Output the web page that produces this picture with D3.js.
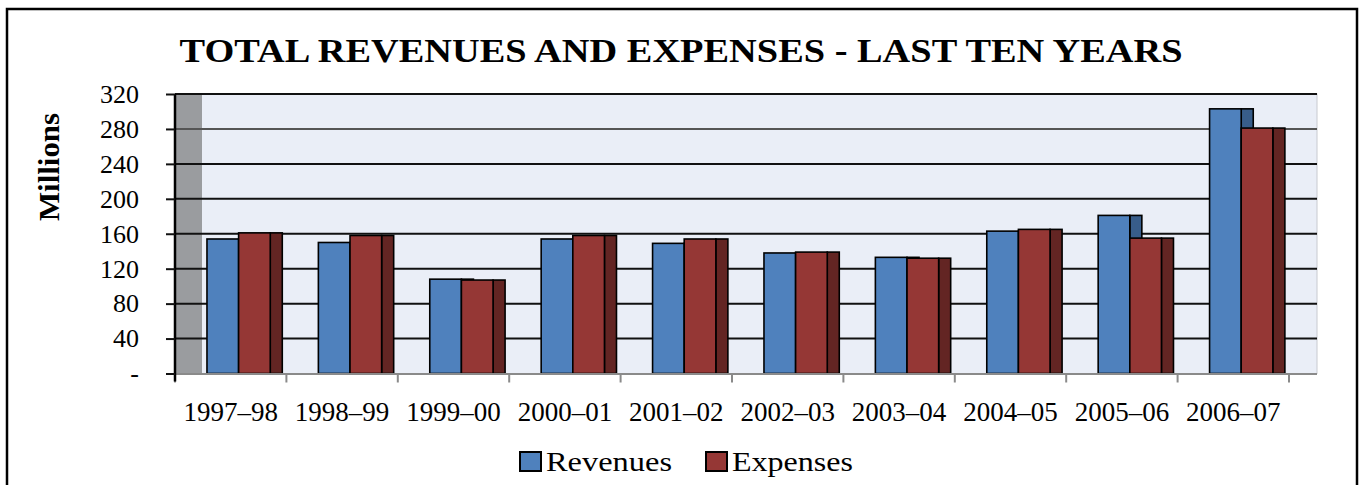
<!DOCTYPE html>
<html>
<head>
<meta charset="utf-8">
<script src="https://cdn.jsdelivr.net/npm/d3@7"></script>
<style>
  html, body { margin: 0; padding: 0; background: #fff; }
  svg { display: block; }
  text { font-family: "Liberation Serif", "Times New Roman", serif; fill: #000; }
</style>
</head>
<body>
<script>
// chart data
const years = ["1997\u201398", "1998\u201399", "1999\u201300", "2000\u201301", "2001\u201302",
               "2002\u201303", "2003\u201304", "2004\u201305", "2005\u201306", "2006\u201307"];
const revenues = [154, 150, 108, 154, 149, 138, 133, 163, 181, 303];
const expenses = [161, 158, 107, 158, 154, 139, 132, 165, 155, 281];
const yTicks = [0, 40, 80, 120, 160, 200, 240, 280, 320];
const seriesNames = ["Revenues", "Expenses"];

const width = 1362, height = 485;
const plotLeft = 175, plotRight = 1289, wallW = 27, depthRight = 1317;
const plotTop = 94, plotBottom = 373.5;

const svg = d3.select("body")
    .append("svg")
    .attr("width", width)
    .attr("height", height);

// outer frame
svg.append("rect")
    .attr("x", 7).attr("y", 9)
    .attr("width", 1350).attr("height", 520)
    .attr("fill", "#fff")
    .attr("stroke", "#000")
    .attr("stroke-width", 2.5);

const x = d3.scaleBand().domain(years).range([plotLeft, plotRight]);
const y = d3.scaleLinear().domain([0, 320]).range([plotBottom, plotTop]);
const bw = x.bandwidth();

// plot back wall + grey side wall
svg.append("rect")
    .attr("x", plotLeft).attr("y", plotTop)
    .attr("width", depthRight - plotLeft).attr("height", plotBottom - plotTop)
    .attr("fill", "#eaeef7")
    .attr("stroke", "#c8cad0")
    .attr("stroke-width", 1);
svg.append("rect")
    .attr("x", plotLeft).attr("y", plotTop)
    .attr("width", wallW).attr("height", plotBottom - plotTop)
    .attr("fill", "#9a9c9f");

// gridlines
svg.append("g").selectAll("line")
    .data(yTicks.filter(d => d > 0))
    .join("line")
    .attr("x1", plotLeft).attr("x2", depthRight)
    .attr("y1", d => y(d)).attr("y2", d => y(d))
    .attr("stroke", d => d === 280 ? "#555" : "#111")
    .attr("stroke-width", 2);

// bars: front face + dark side face
const off = 0.287 * bw, fw = 0.284 * bw, sw = 0.108 * bw;
const series = [
    { name: seriesNames[0], values: revenues, front: "#4f81bd", side: "#385d8a", dx: off },
    { name: seriesNames[1], values: expenses, front: "#953735", side: "#632523", dx: off + fw }
];

series.forEach(s => {
    const g = svg.append("g");
    g.selectAll(".side")
        .data(years)
        .join("rect")
        .attr("class", "side")
        .attr("x", d => x(d) + s.dx + fw)
        .attr("y", (d, i) => y(s.values[i]))
        .attr("width", sw)
        .attr("height", (d, i) => y(0) - y(s.values[i]))
        .attr("fill", s.side)
        .attr("stroke", "#000")
        .attr("stroke-width", 1.6);
    g.selectAll(".front")
        .data(years)
        .join("rect")
        .attr("class", "front")
        .attr("x", d => x(d) + s.dx)
        .attr("y", (d, i) => y(s.values[i]))
        .attr("width", fw)
        .attr("height", (d, i) => y(0) - y(s.values[i]))
        .attr("fill", s.front)
        .attr("stroke", "#000")
        .attr("stroke-width", 1.6);
});

// bottom axis line and category boundary ticks
svg.append("line")
    .attr("x1", plotLeft).attr("x2", depthRight)
    .attr("y1", plotBottom + 0.5).attr("y2", plotBottom + 0.5)
    .attr("stroke", "#8a8a8a")
    .attr("stroke-width", 2);
svg.append("g").selectAll("line")
    .data(years.map(d => x(d)).concat([plotRight]))
    .join("line")
    .attr("x1", d => d).attr("x2", d => d)
    .attr("y1", plotBottom).attr("y2", plotBottom + 9)
    .attr("stroke", "#8a8a8a")
    .attr("stroke-width", 2);

const xAxis = svg.append("g")
    .attr("transform", `translate(0,${plotBottom})`)
    .call(d3.axisBottom(x).tickSize(0).tickPadding(28));
xAxis.select(".domain").remove();
xAxis.selectAll("text")
    .style("font-family", "Liberation Serif")
    .style("font-size", "27px")
    .attr("fill", "#000");

// left axis
const yAxis = svg.append("g")
    .attr("transform", `translate(${plotLeft},0)`)
    .call(d3.axisLeft(y).tickValues(yTicks).tickSizeInner(9).tickSizeOuter(0).tickPadding(27)
        .tickFormat(d => d === 0 ? "-" : d));
yAxis.select(".domain")
    .attr("stroke", "#000")
    .attr("stroke-width", 2.5)
    .attr("d", `M0,${plotTop}V${plotBottom + 8}`);
yAxis.selectAll(".tick line").attr("stroke", "#111").attr("stroke-width", 2);
yAxis.selectAll("text")
    .style("font-family", "Liberation Serif")
    .style("font-size", "26px")
    .attr("fill", "#000");

// title
svg.append("text")
    .attr("x", 681).attr("y", 62)
    .attr("text-anchor", "middle")
    .attr("textLength", 1003)
    .attr("lengthAdjust", "spacingAndGlyphs")
    .style("font-size", "33px")
    .style("font-weight", "bold")
    .text("TOTAL REVENUES AND EXPENSES - LAST TEN YEARS");

// y label
svg.append("text")
    .attr("transform", "translate(59,167) rotate(-90)")
    .attr("text-anchor", "middle")
    .attr("textLength", 108)
    .attr("lengthAdjust", "spacingAndGlyphs")
    .style("font-size", "30px")
    .style("font-weight", "bold")
    .text("Millions");

// legend
const legendX = [520, 706], legendLen = [126, 121];
const legend = svg.append("g").selectAll("g")
    .data(series)
    .join("g")
    .attr("transform", (d, i) => `translate(${legendX[i]},452)`);
legend.append("rect")
    .attr("width", 21).attr("height", 19)
    .attr("fill", d => d.front)
    .attr("stroke", "#000")
    .attr("stroke-width", 2);
legend.append("text")
    .attr("x", 26).attr("y", 19)
    .attr("textLength", (d, i) => legendLen[i])
    .attr("lengthAdjust", "spacingAndGlyphs")
    .style("font-size", "28px")
    .text(d => d.name);
</script>
</body>
</html>
